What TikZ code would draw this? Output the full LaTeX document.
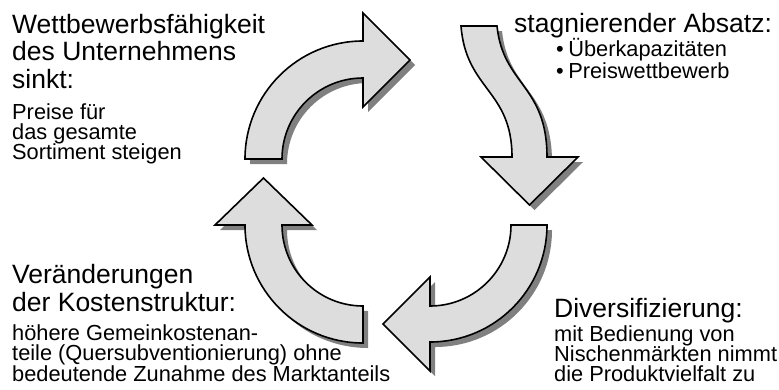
\documentclass[tikz,border=0pt]{standalone}
\usepackage{fontspec}
\setmainfont{Liberation Sans}
\usetikzlibrary{shadows}
\definecolor{arrowfill}{HTML}{DDDDDD}
\definecolor{arrowshade}{HTML}{808080}
\tikzset{
  cyclearrow/.style={fill=arrowfill, draw=black, line width=1.6pt, line join=miter,
    drop shadow={shadow xshift=5pt, shadow yshift=-5pt, fill=arrowshade, opacity=1}},
  headline/.style={anchor=base west, inner sep=0pt, font=\fontsize{26.5}{30}\selectfont},
  subline/.style={anchor=base west, inner sep=0pt, font=\fontsize{21.8}{24}\selectfont},
}
\begin{document}
\begin{tikzpicture}[x=1pt,y=-1pt]
\useasboundingbox (0,0) rectangle (779,389);

% upper left: rising quarter turn pointing right
\path[cyclearrow] (245,159) arc[start angle=-180, end angle=-90, radius=118]
  -- (363,13) -- (410,60) -- (363,107) -- (363,78)
  arc[start angle=-90, end angle=-180, radius=81] -- cycle;

% upper right: S-shaped arrow pointing down
\path[cyclearrow] (461,26) -- (497,26) .. controls (503,85) and (547,85) .. (547,157)
  -- (578,157) -- (529.5,205) -- (481,157) -- (512,157)
  .. controls (512,90) and (466,90) .. (461,26) -- cycle;

% lower right: falling quarter turn pointing left
\path[cyclearrow] (547,225) arc[start angle=0, end angle=90, radius=117]
  -- (430,371) -- (383,324) -- (430,277) -- (430,306)
  arc[start angle=90, end angle=0, radius=81] -- cycle;

% lower left: quarter turn pointing up
\path[cyclearrow] (363,343) arc[start angle=90, end angle=180, radius=118]
  -- (215,225) -- (263.5,178) -- (312,225) -- (282,225)
  arc[start angle=180, end angle=90, radius=81] -- cycle;

% texts, upper left
\node[headline] (tl1) at (12,33) {Wettbewerbsfähigkeit};
\node[headline] (tl2) at (12,60.5) {des Unternehmens};
\node[headline] (tl3) at (12,88) {sinkt:};
\node[subline] (tl4) at (12,119.5) {Preise für};
\node[subline] (tl5) at (12,139.5) {das gesamte};
\node[subline] (tl6) at (12,159.5) {Sortiment steigen};

% texts, upper right
\node[headline] (tr1) at (514,32) {stagnierender Absatz:};
\node[subline] (tr2) at (556,56.5) {•\hspace{4.5pt}Überkapazitäten};
\node[subline] (tr3) at (556,78) {•\hspace{4.5pt}Preiswettbewerb};

% texts, lower left
\node[headline] (bl1) at (12,283) {Veränderungen};
\node[headline] (bl2) at (12,311) {der Kostenstruktur:};
\node[subline] (bl3) at (12,340) {höhere Gemeinkostenan-};
\node[subline] (bl4) at (12,360.5) {teile (Quersubventionierung) ohne};
\node[subline] (bl5) at (12,381) {bedeutende Zunahme des Marktanteils};

% texts, lower right
\node[headline] (br1) at (554,317) {Diversifizierung:};
\node[subline] (br2) at (554,341) {mit Bedienung von};
\node[subline] (br3) at (554,361) {Nischenmärkten nimmt};
\node[subline] (br4) at (554,381) {die Produktvielfalt zu};
\end{tikzpicture}
\end{document}
